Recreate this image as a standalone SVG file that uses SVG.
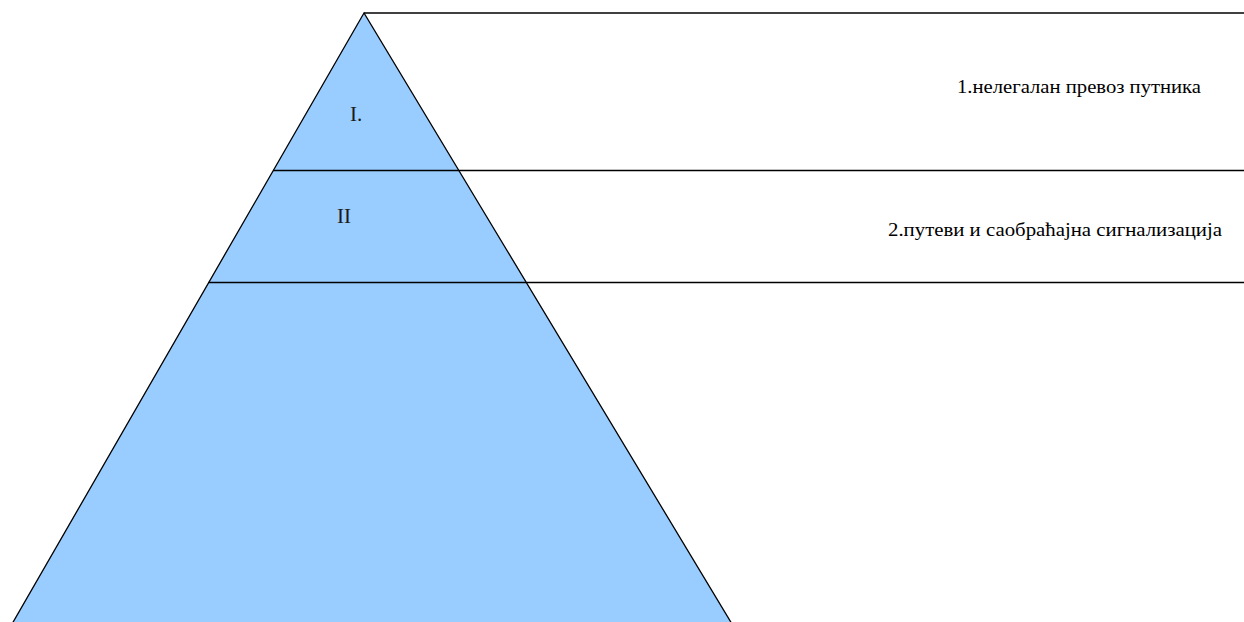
<svg xmlns="http://www.w3.org/2000/svg" width="1244" height="622" viewBox="0 0 1244 622">
<style>
.ln{stroke:#000;stroke-width:1.3;fill:none}
.lbl{font-family:"Liberation Serif","DejaVu Serif",serif;font-size:18.5px;fill:#000}
.num{font-family:"Liberation Serif","DejaVu Serif",serif;font-size:21px;fill:#1a1a1a}
</style>
<rect width="1244" height="622" fill="#fff"/>
<g id="pyramid">
<polygon points="364,13 12,624 732,624" fill="#99CCFF" stroke="#000" stroke-width="1.3"/>
</g>
<g id="connectors">
<line class="ln" x1="364" y1="13" x2="1244" y2="13"/>
<line class="ln" x1="273" y1="170.5" x2="1244" y2="170.5"/>
<line class="ln" x1="208.5" y1="282.5" x2="1244" y2="282.5"/>
</g>
<g id="level1">
<text class="num" x="350" y="121">I.</text>
<text class="lbl" x="957" y="93" textLength="244" lengthAdjust="spacingAndGlyphs">1.нелегалан превоз путника</text>
</g>
<g id="level2">
<text class="num" x="337" y="223">II</text>
<text class="lbl" x="888" y="236" textLength="334" lengthAdjust="spacingAndGlyphs">2.путеви и саобраћајна сигнализација</text>
</g>
</svg>
